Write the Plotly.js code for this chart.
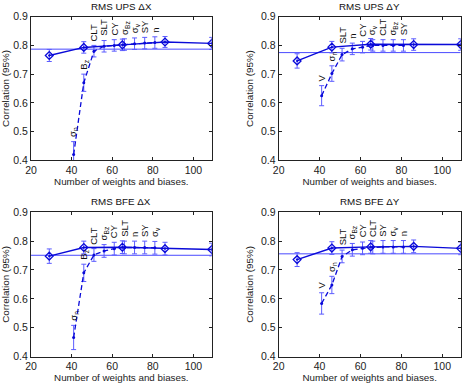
<!DOCTYPE html>
<html>
<head>
<meta charset="utf-8">
<script src="https://cdn.plot.ly/plotly-3.0.1.min.js"></script>
<style>
  html, body { margin: 0; padding: 0; background: #fff; }
  #chart { width: 466px; height: 387px; }
</style>
</head>
<body>
<div id="chart"></div>
<script>
// Network sizes: full-input network sweep, and forward input selection (5 hidden units)
const xSweep  = [29, 46, 65, 86, 109];
const xSelect = [41, 46, 51, 56, 61, 66, 71, 76, 81];

const panelTitles = ['RMS UPS \u0394X', 'RMS UPS \u0394Y', 'RMS BFE \u0394X', 'RMS BFE \u0394Y'];

// RMS UPS ΔX
const upsDxSweepY   = [0.765, 0.793, 0.802, 0.812, 0.807];
const upsDxSweepErr = [0.021, 0.020, 0.020, 0.019, 0.021];
const upsDxSelY     = [0.420, 0.670, 0.780, 0.797, 0.800, 0.803, 0.806, 0.808, 0.810];
const upsDxSelErr   = [0.045, 0.030, 0.020, 0.020, 0.020, 0.020, 0.020, 0.020, 0.020];
const upsDxLabels   = ['\u03c3<sub>n</sub>', 'B<sub>z</sub>', 'CLT', 'SLT', 'CY', '\u03c3<sub>Bz</sub>', '\u03c3<sub>v</sub>', 'SY', 'n'];
const upsDxBase     = 0.787;

// RMS UPS ΔY
const upsDySweepY   = [0.746, 0.794, 0.804, 0.803, 0.803];
const upsDySweepErr = [0.025, 0.020, 0.020, 0.020, 0.020];
const upsDySelY     = [0.625, 0.702, 0.768, 0.788, 0.794, 0.800, 0.800, 0.800, 0.800];
const upsDySelErr   = [0.035, 0.027, 0.022, 0.020, 0.020, 0.020, 0.020, 0.020, 0.020];
const upsDyLabels   = ['V', '\u03c3<sub>n</sub>', 'SLT', 'n', 'CY', '\u03c3<sub>v</sub>', 'CLT', '\u03c3<sub>Bz</sub>', 'SY'];
const upsDyBase     = 0.775;

// RMS BFE ΔX
const bfeDxSweepY   = [0.748, 0.778, 0.779, 0.774, 0.771];
const bfeDxSweepErr = [0.025, 0.022, 0.022, 0.022, 0.022];
const bfeDxSelY     = [0.466, 0.690, 0.752, 0.766, 0.774, 0.778, 0.778, 0.778, 0.777];
const bfeDxSelErr   = [0.042, 0.030, 0.022, 0.022, 0.022, 0.022, 0.022, 0.022, 0.022];
const bfeDxLabels   = ['\u03c3<sub>n</sub>', 'B<sub>z</sub>', 'CLT', '\u03c3<sub>Bz</sub>', 'CY', 'SLT', 'n', 'SY', '\u03c3<sub>v</sub>'];
const bfeDxBase     = 0.751;

// RMS BFE ΔY
const bfeDySweepY   = [0.736, 0.776, 0.780, 0.782, 0.775];
const bfeDySweepErr = [0.024, 0.022, 0.022, 0.022, 0.022];
const bfeDySelY     = [0.584, 0.648, 0.747, 0.770, 0.775, 0.778, 0.780, 0.780, 0.780];
const bfeDySelErr   = [0.037, 0.030, 0.022, 0.022, 0.022, 0.022, 0.022, 0.022, 0.022];
const bfeDyLabels   = ['V', '\u03c3<sub>n</sub>', 'SLT', '\u03c3<sub>Bz</sub>', 'CY', 'CLT', 'SY', '\u03c3<sub>v</sub>', 'n'];
const bfeDyBase     = 0.756;

const xTicks = [20, 40, 60, 80, 100];
const yTicks = [0.4, 0.5, 0.6, 0.7, 0.8, 0.9];
const xRange = [20, 109];
const yRange = [0.4, 0.9];

const LINE = '#0a0ad8';
const ERR  = '#5c5cff';
const BASE = '#4a4aff';
const FONT = 'Liberation Sans, Arial, Helvetica, sans-serif';

function panel(n, sweepY, sweepErr, selY, selErr, base, labels) {
  const xa = n === 1 ? 'x' : 'x' + n;
  const ya = n === 1 ? 'y' : 'y' + n;
  const traces = [
    { x: xRange, y: [base, base], xaxis: xa, yaxis: ya, mode: 'lines',
      line: { color: BASE, width: 1 }, hoverinfo: 'skip' },
    { x: xSelect, y: selY, xaxis: xa, yaxis: ya, mode: 'lines+markers',
      line: { color: LINE, width: 1.3, dash: '5px,3px' },
      marker: { size: 3, color: LINE },
      error_y: { type: 'data', array: selErr, color: ERR, thickness: 1, width: 2.5 } },
    { x: xSweep, y: sweepY, xaxis: xa, yaxis: ya, mode: 'lines+markers',
      line: { color: LINE, width: 1.4 },
      marker: { symbol: 'diamond-open-dot', size: 6, color: LINE, line: { color: LINE, width: 1.3 } },
      error_y: { type: 'data', array: sweepErr, color: ERR, thickness: 1, width: 2.5 } }
  ];
  const notes = labels.map((t, i) => ({
    xref: xa, yref: ya, x: xSelect[i], y: selY[i] + selErr[i] + 0.008,
    text: t, textangle: -90, showarrow: false,
    xanchor: 'center', yanchor: 'bottom',
    font: { family: FONT, size: 9.5, color: '#111' }
  }));
  return { traces, notes };
}

const panels = [
  panel(1, upsDxSweepY, upsDxSweepErr, upsDxSelY, upsDxSelErr, upsDxBase, upsDxLabels),
  panel(2, upsDySweepY, upsDySweepErr, upsDySelY, upsDySelErr, upsDyBase, upsDyLabels),
  panel(3, bfeDxSweepY, bfeDxSweepErr, bfeDxSelY, bfeDxSelErr, bfeDxBase, bfeDxLabels),
  panel(4, bfeDySweepY, bfeDySweepErr, bfeDySelY, bfeDySelErr, bfeDyBase, bfeDyLabels)
];

const W = 466, H = 387;
// plot boxes in pixels: [left, right, top, bottom]
const boxes = [
  [31, 211.7, 16.7, 160.3],
  [278.7, 460.7, 16.7, 160.3],
  [31, 211.7, 212.3, 356.5],
  [278.7, 460.7, 212.3, 356.5]
];

function xAxis(b, anchor) {
  return {
    domain: [b[0] / W, b[1] / W], anchor: anchor, range: xRange,
    tickvals: xTicks, ticks: 'inside', ticklen: 3, tickcolor: '#222',
    showline: true, linecolor: '#222', linewidth: 1, mirror: 'ticks',
    showgrid: false, zeroline: false,
    tickfont: { family: FONT, size: 10.5, color: '#222' },
    title: { text: 'Number of weights and biases.', font: { family: FONT, size: 9.8, color: '#222' }, standoff: 2 }
  };
}
function yAxis(b, anchor) {
  return {
    domain: [1 - b[3] / H, 1 - b[2] / H], anchor: anchor, range: yRange,
    tickvals: yTicks, tickformat: '.1f', ticks: 'inside', ticklen: 3, tickcolor: '#222',
    showline: true, linecolor: '#222', linewidth: 1, mirror: 'ticks',
    showgrid: false, zeroline: false,
    tickfont: { family: FONT, size: 10.5, color: '#222' },
    title: { text: 'Correlation (95%)', font: { family: FONT, size: 9.8, color: '#222' }, standoff: 5 }
  };
}

const titleNotes = boxes.map((b, i) => ({
  xref: 'paper', yref: 'paper', x: (b[0] + b[1]) / 2 / W, y: 1 - (b[2] - 10.5) / H,
  text: panelTitles[i], showarrow: false, xanchor: 'center', yanchor: 'middle',
  font: { family: FONT, size: 9.8, color: '#111' }
}));

const layout = {
  width: W, height: H,
  margin: { l: 0, r: 0, t: 0, b: 0 },
  paper_bgcolor: '#fff', plot_bgcolor: '#fff',
  showlegend: false,
  font: { family: FONT },
  xaxis: xAxis(boxes[0], 'y'),   yaxis: yAxis(boxes[0], 'x'),
  xaxis2: xAxis(boxes[1], 'y2'), yaxis2: yAxis(boxes[1], 'x2'),
  xaxis3: xAxis(boxes[2], 'y3'), yaxis3: yAxis(boxes[2], 'x3'),
  xaxis4: xAxis(boxes[3], 'y4'), yaxis4: yAxis(boxes[3], 'x4'),
  annotations: titleNotes.concat(...panels.map(p => p.notes))
};

Plotly.newPlot('chart', [].concat(...panels.map(p => p.traces)), layout,
  { displayModeBar: false, staticPlot: true });
</script>
</body>
</html>
